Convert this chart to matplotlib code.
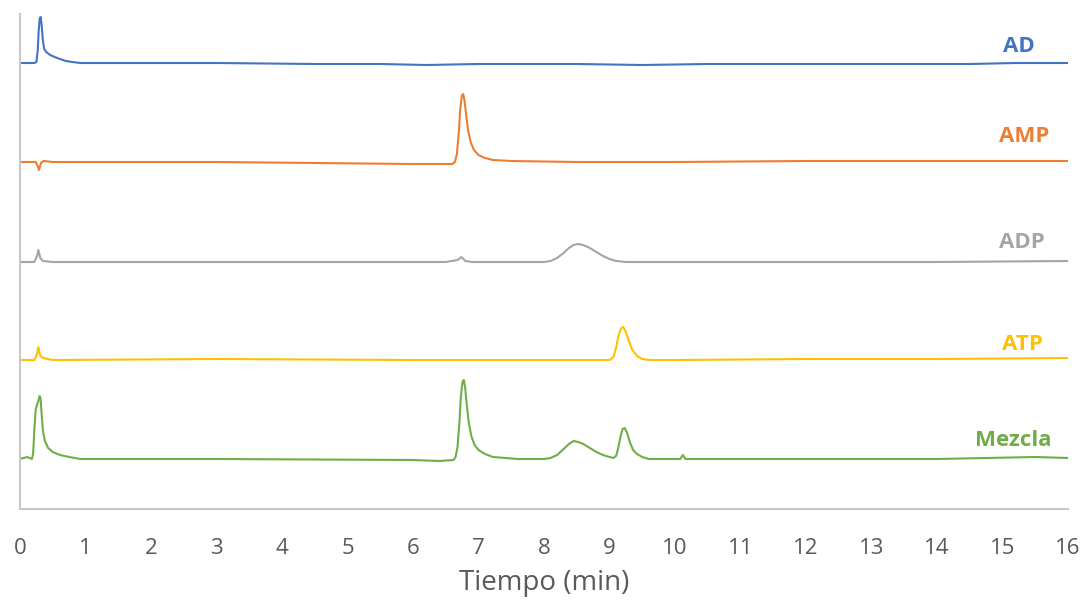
import matplotlib.pyplot as plt

plt.rcParams['font.family'] = ['Open Sans', 'DejaVu Sans']

# retention time (min) and detector signal above each trace's own baseline
t_ad = [0, 0.22, 0.25, 0.27, 0.285, 0.30, 0.315, 0.33, 0.35, 0.37, 0.40, 0.46, 0.53,
        0.61, 0.7, 0.8, 0.92, 1.5, 3, 4.5, 5.5, 6.2, 7, 8.5, 9.5, 10.5, 12, 13.5, 14.5,
        15.2, 16]
s_ad = [0, 0, 1, 12, 32, 44, 46, 38, 22, 14, 11, 8, 6,
        4, 2, 1, 0, 0, 0, -1, -1, -2, -1, -1, -2, -1, -1, -1, -1,
        0, 0]

t_amp = [0, 0.24, 0.27, 0.29, 0.32, 0.36, 0.5, 3, 6, 6.6, 6.64, 6.67, 6.70, 6.72,
         6.745, 6.765, 6.785, 6.81, 6.84, 6.88, 6.93, 7.0, 7.1, 7.22, 7.5, 8.5, 10, 12,
         14, 16]
s_amp = [0, 0, -4, -8, -1, 1, 0, 0, -2, -2, 0, 8, 30, 52,
         66, 68, 62, 48, 32, 20, 12, 7, 4, 2, 1, 0, 0, 1,
         1, 1]

t_adp = [0, 0.22, 0.26, 0.28, 0.31, 0.35, 0.5, 3, 6.5, 6.68, 6.74, 6.8, 6.9, 7.5,
         8.0, 8.1, 8.2, 8.3, 8.38, 8.45, 8.52, 8.6, 8.7, 8.8, 8.9, 9.0, 9.1, 9.25,
         10, 12, 14, 16]
s_adp = [0, 0, 6, 12, 4, 1, 0, 0, 0, 2, 5, 1, 0, 0,
         0, 1, 4, 9, 14, 17, 18, 17, 14, 10, 6, 3, 1, 0,
         0, 0, 0, 1]

t_atp = [0, 0.22, 0.26, 0.28, 0.31, 0.35, 0.5, 3, 6, 8, 9.0, 9.06, 9.1, 9.14,
         9.18, 9.21, 9.25, 9.3, 9.35, 9.42, 9.5, 9.6, 10, 12, 14, 16]
s_atp = [0, 0, 6, 13, 4, 2, 0, 1, 0, 0, 0, 3, 12, 25,
         32, 33, 28, 18, 10, 4, 1, 0, 0, 1, 1, 2]

t_mix = [0, 0.11, 0.18, 0.2, 0.22, 0.24, 0.26, 0.28, 0.30, 0.315, 0.33, 0.35, 0.38,
         0.43, 0.5, 0.61, 0.75, 0.92, 3, 6, 6.4, 6.62, 6.65, 6.68, 6.71, 6.73, 6.755,
         6.775, 6.795, 6.82, 6.85, 6.89, 6.94, 7.0, 7.1, 7.22, 7.6, 8.0, 8.1, 8.2, 8.3,
         8.38, 8.45, 8.52, 8.6, 8.7, 8.8, 8.9, 9.0, 9.06, 9.1, 9.13, 9.17, 9.2, 9.23,
         9.27, 9.31, 9.36, 9.42, 9.5, 9.6, 10.08, 10.12, 10.16, 12, 14, 15.5, 16]
s_mix = [0, 2, 0, 5, 30, 50, 54, 58, 63, 60, 45, 28, 18,
         11, 7, 4, 2, 0, 0, -1, -2, -1, 2, 12, 38, 62, 77,
         79, 72, 55, 37, 23, 14, 9, 5, 2, 0, 0, 1, 4, 10,
         15, 18, 17, 15, 11, 7, 4, 2, 1, 3, 10, 23, 30, 31,
         26, 17, 9, 5, 2, 0, 0, 4, 0, 0, 0, 2, 1]

names = ['AD', 'AMP', 'ADP', 'ATP', 'Mezcla']
times = [t_ad, t_amp, t_adp, t_atp, t_mix]
signals = [s_ad, s_amp, s_adp, s_atp, s_mix]

# layout / style
offsets = [446, 347, 247, 149, 50]
colors = ['#4472C4', '#ED7D31', '#A5A5A5', '#FFC000', '#70AD47']
label_pos = [(15.25, 462), (15.33, 373), (15.3, 266), (15.3, 164), (15.17, 68)]

fig = plt.figure(figsize=(10.87, 6), dpi=100)
ax = fig.add_axes([20 / 1087, 91 / 600, 1048 / 1087, 495 / 600])

for name, t, s, off, c, (lx, ly) in zip(names, times, signals, offsets, colors, label_pos):
    ax.plot(t, [v + off for v in s], color=c, linewidth=1.5,
            solid_joinstyle='round', solid_capstyle='round')
    ax.text(lx, ly, name, color=c, fontsize=16, fontweight='bold',
            ha='center', va='center')

ax.set_xlim(0, 16)
ax.set_ylim(0, 495)
ax.set_xticks(range(17))
ax.set_yticks([])
ax.tick_params(axis='x', length=0, pad=21, labelsize=16, labelcolor='#595959')
for sp in ['top', 'right']:
    ax.spines[sp].set_visible(False)
for sp in ['left', 'bottom']:
    ax.spines[sp].set_color('#C8C8C8')
    ax.spines[sp].set_linewidth(1.5)
ax.set_xlabel('Tiempo (min)', fontsize=20, color='#595959', labelpad=7)

plt.savefig('out.png', dpi=100)
